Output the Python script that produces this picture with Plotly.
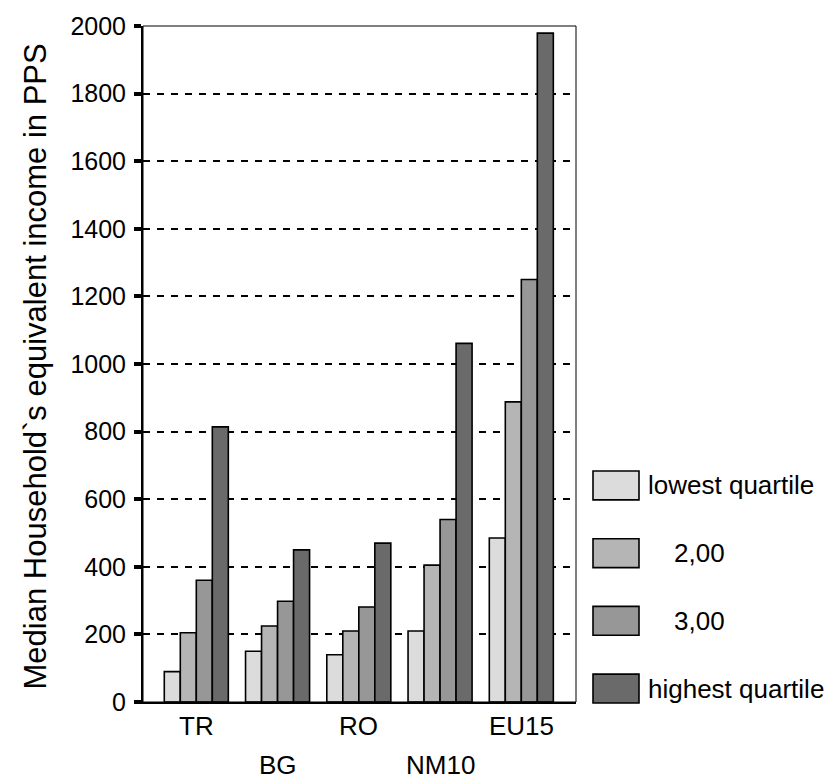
import plotly.graph_objects as go

# Country groups and quartile series (median equivalent income, PPS)
countries = ["TR", "BG", "RO", "NM10", "EU15"]
series_names = ["lowest quartile", "2,00", "3,00", "highest quartile"]
lowest = [90, 150, 140, 210, 485]
second = [205, 225, 210, 405, 888]
third = [360, 298, 281, 540, 1250]
highest = [814, 450, 470, 1061, 1979]
y_ticks = [0, 200, 400, 600, 800, 1000, 1200, 1400, 1600, 1800, 2000]

series_values = [lowest, second, third, highest]
fills = ["#dcdcdc", "#b5b5b5", "#979797", "#6a6a6a"]

FONT = "Liberation Sans, Arial, sans-serif"
W, H = 827, 781
L, R, T, B = 143, 576, 23, 702  # plot area in pixels

fig = go.Figure()
for name, vals, col in zip(series_names, series_values, fills):
    fig.add_trace(go.Bar(
        x=list(range(len(countries))), y=vals, name=name,
        marker=dict(color=col, line=dict(color="black", width=1.6)),
        showlegend=False,
    ))

def px_x(px):
    return (px - L) / (R - L)

def px_y(py):
    return (B - py) / (B - T)

shapes = []
annotations = []

# frame on the top and right sides
shapes.append(dict(type="rect", xref="paper", yref="paper", x0=0, x1=1, y0=0, y1=1,
                   line=dict(color="black", width=1), layer="above"))

# category labels, staggered on two rows
for i, c in enumerate(countries):
    annotations.append(dict(
        x=i, xref="x", y=px_y(726 if i % 2 == 0 else 765), yref="paper",
        text=c, showarrow=False, xanchor="center", yanchor="middle",
        font=dict(family=FONT, size=26, color="black"),
    ))

# legend drawn as swatches with labels
for k, (name, col) in enumerate(zip(series_names, fills)):
    top = 470 + 68 * k
    shapes.append(dict(type="rect", xref="paper", yref="paper",
                       x0=px_x(593), x1=px_x(639), y0=px_y(top + 29), y1=px_y(top),
                       fillcolor=col, line=dict(color="black", width=1.6)))
    indent = 26 if k in (1, 2) else 0
    annotations.append(dict(
        x=px_x(646 + indent), xref="paper", y=px_y(top + 14.5), yref="paper",
        text=name, showarrow=False, xanchor="left", yanchor="middle",
        font=dict(family=FONT, size=26, color="black"),
    ))

# y-axis title
annotations.append(dict(
    x=px_x(35), xref="paper", y=px_y(365), yref="paper",
    text="Median Household`s equivalent income in PPS", textangle=-90,
    showarrow=False, xanchor="center", yanchor="middle",
    font=dict(family=FONT, size=31, color="black"),
))

fig.update_layout(
    width=W, height=H,
    margin=dict(l=L, r=W - R, t=T, b=H - B, pad=0),
    paper_bgcolor="white", plot_bgcolor="white",
    barmode="group", bargap=0.212, bargroupgap=0,
    shapes=shapes, annotations=annotations,
    xaxis=dict(range=[-0.656, 4.673], showticklabels=False, ticks="",
               showgrid=False, zeroline=False,
               showline=True, linecolor="black", linewidth=2),
    yaxis=dict(range=[0, 2000], tickvals=y_ticks,
               ticks="outside", ticklen=7, tickwidth=4, tickcolor="black",
               ticklabelstandoff=3,
               tickfont=dict(family=FONT, size=25, color="black"),
               showgrid=True, gridcolor="black", gridwidth=2, griddash="7px,7px",
               zeroline=False, showline=True, linecolor="black", linewidth=2),
)

fig.write_html("out.html")
